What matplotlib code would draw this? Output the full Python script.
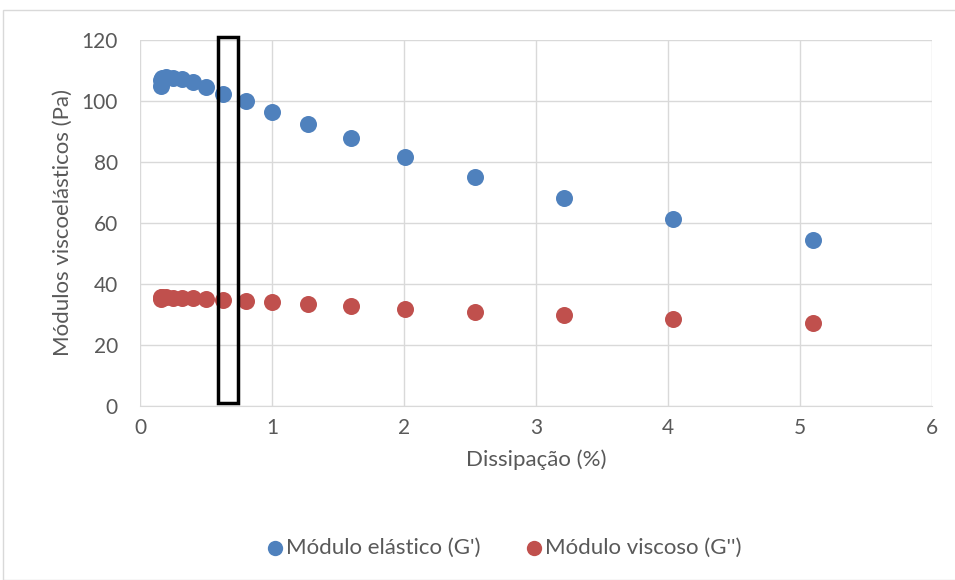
import matplotlib
matplotlib.use("Agg")
import matplotlib.pyplot as plt
from matplotlib.patches import Rectangle

plt.rcParams['font.family'] = ['Lato', 'DejaVu Sans']

strain_elastic = [0.16, 0.16, 0.17, 0.20, 0.25, 0.32, 0.40, 0.50, 0.63, 0.80, 1.00, 1.27, 1.60, 2.01, 2.54, 3.21, 4.04, 5.10]
g_elastic = [105.0, 107.0, 107.5, 108.0, 107.5, 107.2, 106.2, 104.6, 102.3, 100.0, 96.4, 92.5, 87.8, 81.6, 75.1, 68.2, 61.3, 54.4]

strain_viscous = [0.16, 0.16, 0.17, 0.20, 0.25, 0.32, 0.40, 0.50, 0.63, 0.80, 1.00, 1.27, 1.60, 2.01, 2.54, 3.21, 4.04, 5.10]
g_viscous = [35.0, 35.8, 35.6, 35.6, 35.5, 35.4, 35.3, 35.1, 34.8, 34.5, 34.1, 33.5, 32.9, 31.9, 30.9, 29.8, 28.5, 27.2]

box_x = [0.59, 0.74]
box_y = [1.0, 121.0]

xticks = [0, 1, 2, 3, 4, 5, 6]
yticks = [0, 20, 40, 60, 80, 100, 120]

fig = plt.figure(figsize=(9.55, 5.8), dpi=100)
ax = fig.add_axes([140/955, 1-406/580, (932-140)/955, (406-40)/580])

txt = '#595959'
grid = '#d9d9d9'

ax.scatter(strain_elastic, g_elastic, s=150, color='#4F81BD', zorder=3, label="Módulo elástico (G')", linewidths=0)
ax.scatter(strain_viscous, g_viscous, s=150, color='#C0504D', zorder=3, label="Módulo viscoso (G'')", linewidths=0)

ax.add_patch(Rectangle((box_x[0], box_y[0]), box_x[1]-box_x[0], box_y[1]-box_y[0],
                       fill=False, edgecolor='black', linewidth=2.5, zorder=4, clip_on=False))

ax.set_xlim(0, 6)
ax.set_ylim(0, 120)
ax.set_xticks(xticks)
ax.set_yticks(yticks)
ax.grid(True, color=grid, linewidth=1)
ax.set_axisbelow(True)
for s in ['top', 'right', 'left']:
    ax.spines[s].set_visible(False)
ax.spines['bottom'].set_color(grid)
ax.tick_params(length=0, labelsize=15, colors=txt)
ax.tick_params(axis='y', pad=16)
ax.tick_params(axis='x', pad=9)
ax.set_xlabel('Dissipação (%)', fontsize=16, color=txt, labelpad=8)
ax.set_ylabel('Módulos viscoelásticos (Pa)', fontsize=16, color=txt, labelpad=6)

leg = fig.legend(loc='center', bbox_to_anchor=(497/955, 1-548/580), ncol=2, frameon=False,
                 fontsize=16, handletextpad=-0.5, columnspacing=1.4, markerscale=0.9)
for t in leg.get_texts():
    t.set_color(txt)

fig.patches.append(Rectangle((3/955, 0), 1, 1-10/580, transform=fig.transFigure,
                             fill=False, edgecolor='#d9d9d9', linewidth=1))

fig.savefig('out.png', dpi=100)
